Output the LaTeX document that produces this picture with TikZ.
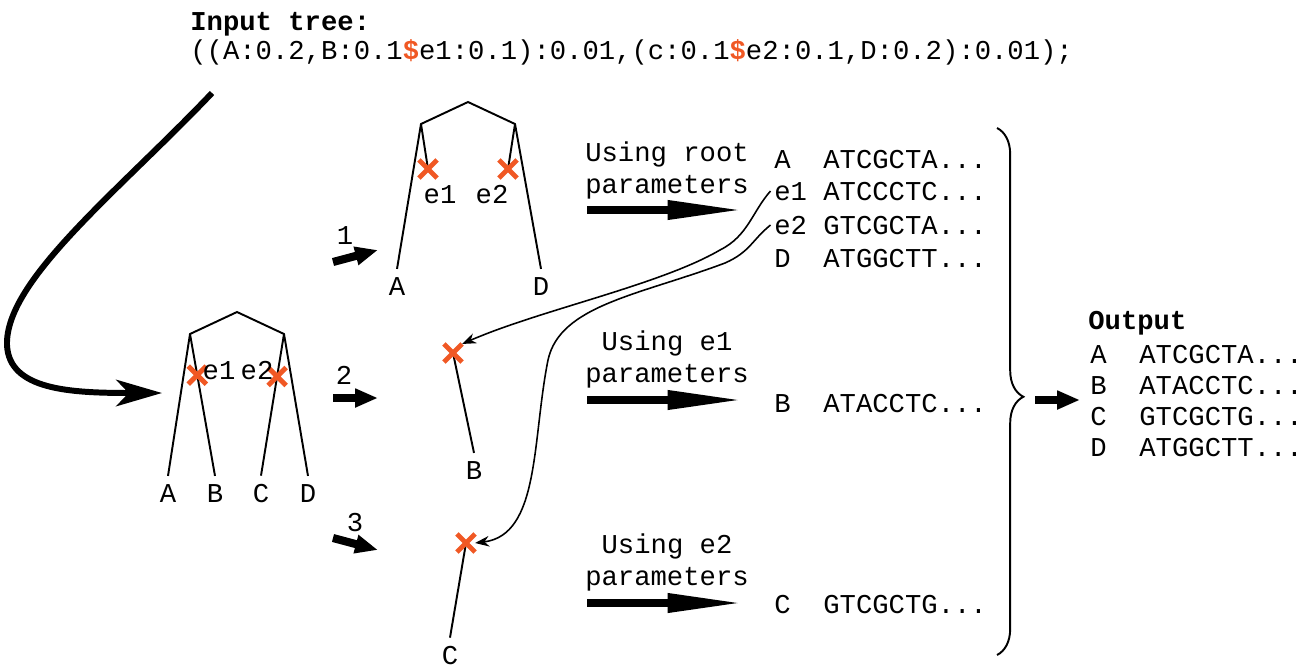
\documentclass[tikz,border=0pt]{standalone}
\usepackage{fontspec}
\setmainfont{Liberation Mono}
\usetikzlibrary{arrows.meta,shapes.misc,decorations.pathreplacing}
\definecolor{cutorange}{RGB}{240,88,36}
\def\cutdollar{{\color{cutorange}\bfseries\$}}
\tikzset{
  every node/.style={font=\fontsize{15.5}{18.2}\selectfont, inner sep=0pt},
  branch/.style={line width=1.1pt},
  leaf/.style={inner sep=5pt},
  cut/.style={cross out, draw=cutorange, line width=2.8pt, minimum size=7.5pt},
  seqrow/.style={anchor=base west},
  using/.style={anchor=north, align=center},
  bigarrow/.style={line width=4.6pt, -{Triangle[length=44pt,width=10pt]}},
  steparrow/.style={line width=4.6pt, -{Triangle[length=13pt,width=10pt]}},
  feedarrow/.style={line width=3.4pt, -{Stealth[length=26pt,width=15pt,inset=7pt]}},
  linkarrow/.style={line width=0.9pt, -{Stealth[length=8pt,width=6pt]}}
}

\begin{document}
\begin{tikzpicture}[x=0.02cm,y=-0.02cm]
    \useasboundingbox (0,0) rectangle (1310,669);
    % input
    \node[seqrow] (intitle) at (190,31) {\bfseries Input tree:};
    \node[seqrow] (innewick) at (190,60)
        {((A:0.2,B:0.1\cutdollar e1:0.1):0.01,(c:0.1\cutdollar e2:0.1,D:0.2):0.01);};
    \coordinate (feedstart) at (212,93);
    \coordinate (feedend) at (162,393);
    \draw[feedarrow] (feedstart) .. controls (120,190) and (5,280) .. (7,345)
        .. controls (9,390) and (70,393) .. (feedend);

    % whole tree
    \coordinate (lRoot) at (237,312);
    \coordinate (lL) at (190,334);
    \coordinate (lR) at (284,334);
    \node[leaf] (lA) at (168,494) {A};
    \node[leaf] (lB) at (215,494) {B};
    \node[leaf] (lC) at (261,494) {C};
    \node[leaf] (lD) at (308,494) {D};
    \draw[branch] (lA.north) -- (lL) -- (lRoot) -- (lR) -- (lD.north);
    \draw[branch] (lL) -- node[cut,pos=0.29] (le1) {} (lB.north);
    \draw[branch] (lR) -- node[cut,pos=0.30] (le2) {} (lC.north);
    \node (le1txt) at (219,371) {e1};
    \node (le2txt) at (257,371) {e2};

    % step arrows
    \coordinate (s1a) at (333,262); \coordinate (s1b) at (378,250);
    \coordinate (s2a) at (333,398); \coordinate (s2b) at (378,398);
    \coordinate (s3a) at (333,538); \coordinate (s3b) at (378,550);
    \draw[steparrow] (s1a) -- (s1b);
    \draw[steparrow] (s2a) -- (s2b);
    \draw[steparrow] (s3a) -- (s3b);
    \node (n1) at (345,236) {1};
    \node (n2) at (344,375) {2};
    \node (n3) at (355,523) {3};

    % 1: root
    \coordinate (tRoot) at (468,102);
    \coordinate (tL) at (421,124);
    \coordinate (tR) at (515,124);
    \node[leaf] (tA) at (397,287) {A};
    \node[leaf] (tD) at (541,287) {D};
    \draw[branch] (tA.north) -- (tL) -- (tRoot) -- (tR) -- (tD.north);
    \draw[branch] (tL) -- ++(7,45) node[cut] (te1) {};
    \draw[branch] (tR) -- ++(-7,45) node[cut] (te2) {};
    \node (te1txt) at (440,195) {e1};
    \node (te2txt) at (492,195) {e2};

    % 2 and 3
    \node[leaf] (mB) at (474,471) {B};
    \draw[branch] (mB.north) -- (453,353) node[cut] (xB) {};
    \node[leaf] (mC) at (450,656) {C};
    \draw[branch] (mC.north) -- (466,543) node[cut] (xC) {};

    % simulation
    \node[using] (useroot) at (667,141) {Using root\\parameters};
    \node[using] (usee1) at (667,330) {Using e1\\parameters};
    \node[using] (usee2) at (667,533) {Using e2\\parameters};
    \coordinate (u1a) at (587,210); \coordinate (u1b) at (745,210);
    \coordinate (u2a) at (587,400); \coordinate (u2b) at (745,400);
    \coordinate (u3a) at (587,603); \coordinate (u3b) at (745,603);
    \draw[bigarrow] (u1a) -- (u1b);
    \draw[bigarrow] (u2a) -- (u2b);
    \draw[bigarrow] (u3a) -- (u3b);

    \node[seqrow] (rA) at (774,168) {A\ \ ATCGCTA...};
    \node[seqrow] (re1) at (774,200) {e1 ATCCCTC...};
    \node[seqrow] (re2) at (774,234) {e2 GTCGCTA...};
    \node[seqrow] (rD) at (774,267) {D\ \ ATGGCTT...};
    \node[seqrow] (rB) at (774,412) {B\ \ ATACCTC...};
    \node[seqrow] (rC) at (774,613) {C\ \ GTCGCTG...};

    \draw[linkarrow] ([xshift=-2pt]re1.west) .. controls (752,212) and (748,236) .. (720,250)
        .. controls (660,285) and (540,310) .. (xB.north east);
    \draw[linkarrow] ([xshift=-2pt]re2.west) .. controls (752,240) and (750,252) .. (725,263)
        .. controls (640,295) and (560,305) .. (548,360)
        .. controls (532,440) and (540,535) .. (xC.east);

    % output
    \draw[line width=1.1pt, decorate, decoration={brace,amplitude=15pt,aspect=0.51}]
        (997,128) -- (997,655);
    \coordinate (outa) at (1035,400); \coordinate (outb) at (1080,400);
    \draw[steparrow] (outa) -- (outb);
    \node[seqrow] (outtitle) at (1088,329) {\bfseries Output};
    \node[seqrow] (oA) at (1090,363) {A\ \ ATCGCTA...};
    \node[seqrow] (oB) at (1090,394) {B\ \ ATACCTC...};
    \node[seqrow] (oC) at (1090,425) {C\ \ GTCGCTG...};
    \node[seqrow] (oD) at (1090,456) {D\ \ ATGGCTT...};
\end{tikzpicture}
\end{document}
